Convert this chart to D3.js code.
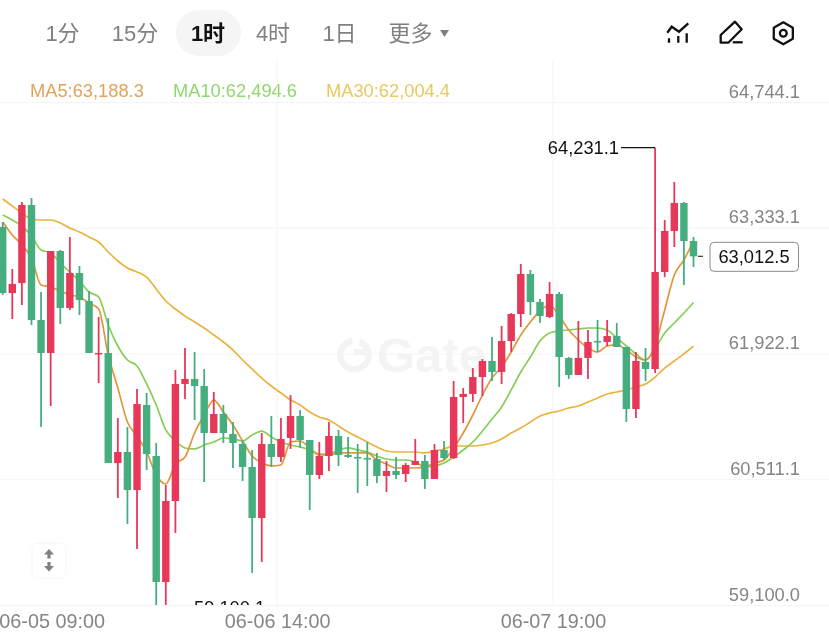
<!DOCTYPE html>
<html><head><meta charset="utf-8">
<script src="https://cdnjs.cloudflare.com/ajax/libs/d3/7.8.5/d3.min.js"></script>
<style>
html,body{margin:0;padding:0;background:#fff;overflow:hidden}
svg{display:block;filter:blur(0.4px)}
text{font-family:"Liberation Sans","Noto Sans CJK SC",sans-serif}
</style></head><body>
<svg id="c" width="829" height="637"></svg>
<script>
const opens=[63342,62601,62713,63588,62298,61928,63072,62433,62825,62511,61917,61928,60693,60817,60390,61344,60772,59358,60267,61580,61636,61557,61030,61243,61019,60907,60649,60076,60907,60761,60974,61221,60951,60559,60772,60996,60783,60761,60749,60738,60548,60604,60570,60671,60716,60514,60839,60749,61434,61468,61658,61838,61715,62062,62365,62814,62500,62332,62590,61872,61681,61872,62062,62051,62118,61995,61299,61827,61748,62837,63297,63611,63184];
const highs=[63398,62870,63622,63667,62612,63072,63083,63229,62904,62623,62332,62320,61198,61097,61524,61479,60918,60447,61737,61984,61939,61748,61490,61344,61153,60951,60839,61030,61221,61198,61456,61288,60951,60929,61153,61064,60985,60907,60929,60806,60716,60761,60693,60963,60783,60907,60940,61614,61535,61759,61860,62107,62231,62376,62926,62859,62534,62724,62612,61883,62287,62186,62298,62298,62264,61995,61939,61984,64231.1,63420,63846,63622,63229];
const lows=[62579,62309,62466,62242,61097,61333,62253,62410,62354,61928,61591,60693,60301,60009,59728,60615,59100.1,59100.1,59908,61412,61176,60480,61030,60918,60637,60491,59459,59583,60649,60705,60851,60862,60166,60514,60604,60660,60749,60357,60435,60469,60368,60514,60480,60671,60402,60514,60727,60738,61142,61378,61445,61614,61580,61939,62219,62354,62264,62320,61546,61636,61681,61636,61939,62006,61995,61153,61198,61614,61703,62780,63117,62691,62893];
const closes=[62601,62702,63588,62298,61928,63072,62433,62825,62522,61928,61928,60693,60817,60390,61355,60794,59358,60267,61580,61636,61557,61030,61243,61030,60918,60649,60076,60907,60761,60963,61221,60951,60559,60772,60996,60783,60761,60749,60738,60548,60604,60559,60671,60716,60514,60839,60749,61434,61468,61658,61838,61715,62062,62365,62814,62500,62343,62590,61883,61681,61872,62051,62051,62118,61995,61299,61838,61748,62837,63297,63611,63184,63012.5];
const ma5=[63398,63252,63140,62994,62691,62668,62623,62579,62556,62489,62421,61905,61535,61153,60996,60817,60559,60458,60682,60761,61030,61232,61400,61266,61120,60940,60772,60693,60660,60671,60929,60940,60862,60783,60783,60806,60806,60806,60806,60727,60682,60637,60637,60637,60649,60693,60727,60862,61030,61232,61456,61647,61771,61939,62130,62276,62399,62466,62343,62186,62074,61984,61939,62006,62018,61961,61883,61849,62018,62410,62803,62971,63188.3];
const ma10=[63476,63420,63353,63241,63083,63050,62938,62837,62736,62612,62556,62242,62006,61849,61782,61580,61344,61064,60940,60862,60851,60895,60929,60974,60963,60940,61008,61052,60985,60929,60895,60873,60839,60794,60794,60839,60862,60839,60817,60772,60738,60727,60727,60705,60649,60660,60693,60761,60839,60929,61052,61187,61322,61513,61715,61883,62062,62152,62175,62186,62197,62208,62208,62186,62096,62006,61917,61849,61973,62152,62264,62376,62494.6];
const ma30=[63656,63577,63499,63431,63420,63420,63386,63330,63285,63229,63173,63061,62960,62881,62837,62780,62646,62511,62421,62343,62276,62208,62130,62051,61961,61849,61748,61647,61557,61479,61400,61344,61266,61210,61176,61109,61041,60985,60929,60873,60828,60817,60817,60817,60806,60828,60851,60884,60884,60884,60895,60918,60963,61030,61086,61153,61221,61255,61277,61311,61333,61378,61423,61468,61490,61512,61546,61580,61658,61759,61838,61917,62004.4];
const priceTicks=[59100.0,60511.1,61922.1,63333.1,64744.1];
const timeTickIndex=[5.1,28.6,57.35];
const timeLabels=["06-05 09:00","06-06 14:00","06-07 19:00"];
const tabLabels=["1分","15分","1时","4时","1日","更多"];
const tabCenters=[62.5,135,208,273,339.5,410.5];
const maNames=["MA5","MA10","MA30"];
const maLast=[63188.3,62494.6,62004.4];
const maLabelColors=["#dfa35c","#8fd86e","#e9c860"];
const maLineColors=["#e0963c","#85cf55","#e9b33f"];
const highLabel=64231.1, lowLabel=59100.1, lastPrice=63012.5;

const RED="#e8385a", GREEN="#46ae7e", GRID="#f4f4f4", GRAY="#858585";
const svg=d3.select("#c");
const fmt=d3.format(",.1f");
const x=d3.scaleLinear().domain([0,72]).range([2.7,693.5]);
const y=d3.scaleLinear().domain([59100,64744.1]).range([605,102]);

svg.append("defs").append("clipPath").attr("id","plot").append("rect")
  .attr("x",0).attr("y",60).attr("width",829).attr("height",545);

// tabs
svg.append("rect").attr("x",176).attr("y",10).attr("width",65).attr("height",46).attr("rx",23).attr("fill","#f5f5f5");
svg.selectAll("text.tab").data(tabLabels).join("text").attr("class","tab")
  .attr("x",(d,i)=>tabCenters[i]).attr("y",41).attr("text-anchor","middle")
  .attr("font-size",22).attr("fill",(d,i)=>i===2?"#111":"#808080")
  .attr("font-weight",(d,i)=>i===2?700:400).text(d=>d);
svg.append("path").attr("d","M440 30h9l-4.5 7z").attr("fill","#808080");

// toolbar icons
const ic=svg.append("g").attr("fill","none").attr("stroke","#111").attr("stroke-width",2.3);
ic.append("path").attr("d","M667.3 32.7L671.7 26.7L679 31.7L688.3 23.3");
ic.append("path").attr("d","M669 38.3V42.7M678.3 36V42.7M686.7 33.3V42.7");
ic.append("path").attr("stroke-linejoin","round").attr("d","M720.7 42.7V35L735 21.7L741.7 29.3L728.3 42.7Z");
ic.append("path").attr("d","M732.7 42.3H742.7");
ic.append("path").attr("stroke-linejoin","round").attr("d",d3.range(6).map(k=>{
  const a=Math.PI/3*k-Math.PI/2;return (k?"L":"M")+(783.3+11*Math.cos(a))+" "+(33.3+11*Math.sin(a));}).join("")+"Z");
ic.append("circle").attr("cx",783.3).attr("cy",33.3).attr("r",3.4);

// MA legend
const legendX=[30,173,326];
svg.selectAll("text.ma").data(maNames).join("text").attr("class","ma")
  .attr("x",(d,i)=>legendX[i]).attr("y",97).attr("font-size",18.3)
  .attr("fill",(d,i)=>maLabelColors[i]).text((d,i)=>d+":"+fmt(maLast[i]));

// grid + price axis
const yAxis=d3.axisRight(y).tickValues(priceTicks).tickSize(829).tickFormat(fmt);
const gy=svg.append("g").call(yAxis);
gy.select(".domain").remove();
gy.selectAll("line").attr("stroke",GRID);
gy.selectAll("text").attr("x",800).attr("dy",-5).attr("text-anchor","end")
  .attr("font-size",18.3).attr("fill",GRAY)
  .style("font-family",'"Liberation Sans",sans-serif');

// time axis
const xAxis=d3.axisBottom(x).tickValues(timeTickIndex).tickSize(0).tickFormat((d,i)=>timeLabels[i]);
const gx=svg.append("g").attr("transform","translate(0,605)").call(xAxis);
gx.select(".domain").remove();
gx.selectAll("text").attr("y",23).attr("dy",0).attr("font-size",19.8).attr("fill",GRAY)
  .style("font-family",'"Liberation Sans",sans-serif');
svg.selectAll("line.vg").data(timeTickIndex.slice(1)).join("line").attr("class","vg")
  .attr("x1",d=>x(d)).attr("x2",d=>x(d)).attr("y1",60).attr("y2",605).attr("stroke",GRID);

// watermark
const wm=svg.append("g");
wm.append("path").attr("d",d3.arc()({innerRadius:11,outerRadius:17.5,startAngle:0.35,endAngle:Math.PI*2-0.15})).attr("transform","translate(354.5,355)").attr("fill","#f3f3f3");
wm.append("rect").attr("x",354).attr("y",349).attr("width",15).attr("height",6).attr("fill","#f3f3f3");
wm.append("text").attr("x",377).attr("y",372).attr("font-size",49).attr("font-weight",700).attr("fill","#f4f4f4").text("Gate");

const plot=svg.append("g").attr("clip-path","url(#plot)");

// moving averages
const lineGen=d3.line().x((d,i)=>x(i)).y(d=>y(d)).curve(d3.curveMonotoneX);
plot.selectAll("path.ma").data([ma30,ma10,ma5]).join("path").attr("class","ma")
  .attr("fill","none").attr("stroke-width",1.7)
  .attr("stroke",(d,i)=>[maLineColors[2],maLineColors[1],maLineColors[0]][i]).attr("d",lineGen);

// candles
const idx=d3.range(closes.length);
const col=i=>closes[i]>=opens[i]?RED:GREEN;
plot.selectAll("line.wick").data(idx).join("line").attr("class","wick")
  .attr("x1",i=>x(i)).attr("x2",i=>x(i)).attr("y1",i=>y(highs[i])).attr("y2",i=>y(lows[i]))
  .attr("stroke",col).attr("stroke-width",1.8);
plot.selectAll("rect.body").data(idx).join("rect").attr("class","body")
  .attr("x",i=>x(i)-3.7).attr("width",7.4)
  .attr("y",i=>Math.min(y(opens[i]),y(closes[i])))
  .attr("height",i=>Math.max(1.5,Math.abs(y(opens[i])-y(closes[i]))))
  .attr("fill",col);

// high / low annotations
const hiX=x(highs.indexOf(highLabel));
svg.append("line").attr("x1",621).attr("x2",hiX).attr("y1",y(highLabel)).attr("y2",y(highLabel)).attr("stroke","#111").attr("stroke-width",1.2);
svg.append("text").attr("x",619).attr("y",y(highLabel)+6.5).attr("text-anchor","end").attr("font-size",18.3).attr("fill","#111").text(fmt(highLabel));
plot.append("text").attr("x",194).attr("y",y(lowLabel)+9).attr("font-size",18.3).attr("fill","#111").text(fmt(lowLabel));

// last price tag
const ly=y(lastPrice);
svg.append("line").attr("x1",698).attr("x2",703).attr("y1",ly).attr("y2",ly).attr("stroke","#333").attr("stroke-width",1.2);
svg.append("rect").attr("x",710).attr("y",ly-14).attr("width",88.5).attr("height",29).attr("rx",4).attr("fill","#fff").attr("stroke","#8a8a8a");
svg.append("text").attr("x",754).attr("y",ly+7).attr("text-anchor","middle").attr("font-size",18.3).attr("fill","#111").text(fmt(lastPrice));

// scale-toggle button
svg.append("rect").attr("x",32).attr("y",543).attr("width",34).attr("height",35).attr("rx",6).attr("fill","#fff").attr("stroke","#f5f5f5");
svg.append("path").attr("d","M49 549l-5 5.5h3.4v4h3.2v-4H54zM49 571.5l-5-5.5h3.4v-4h3.2v4H54z").attr("fill","#808080");
</script>
</body></html>
